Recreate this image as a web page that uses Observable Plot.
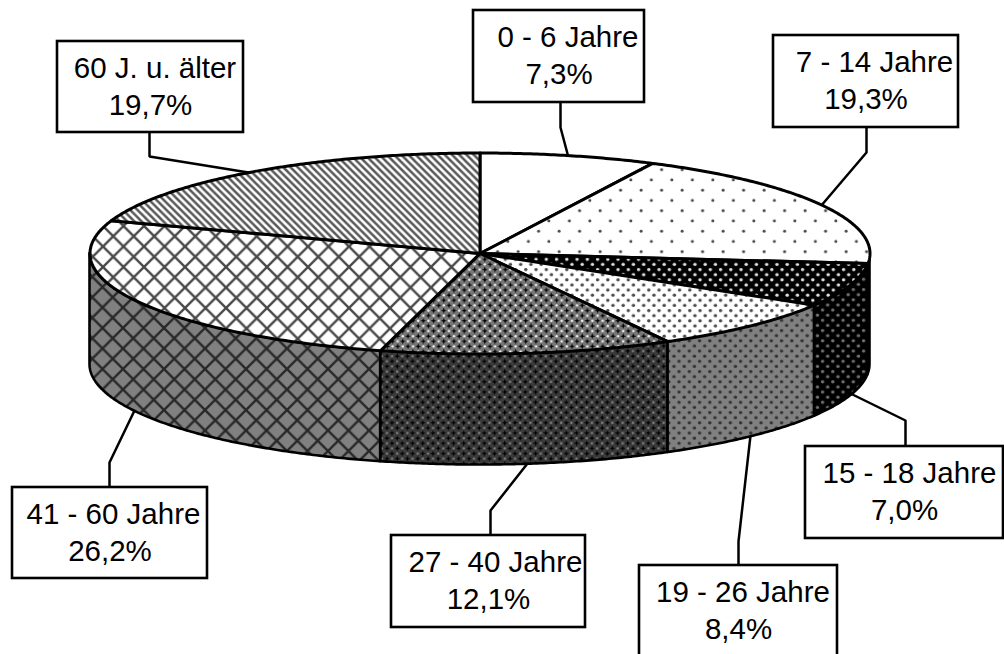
<!DOCTYPE html>
<html><head><meta charset="utf-8">
<script src="https://cdn.jsdelivr.net/npm/d3@7"></script>
<script src="https://cdn.jsdelivr.net/npm/@observablehq/plot@0.6"></script>
<style>html,body{margin:0;padding:0;background:#fff;overflow:hidden}svg{display:block}</style>
</head><body><div id="chart"></div>
<script>
const categories = ["0 - 6 Jahre","7 - 14 Jahre","15 - 18 Jahre","19 - 26 Jahre","27 - 40 Jahre","41 - 60 Jahre","60 J. u. älter"];
const shares = [7.3,19.3,7.0,8.4,12.1,26.2,19.7];
const shareLabels = ["7,3%","19,3%","7,0%","8,4%","12,1%","26,2%","19,7%"];

// layout (separate from the data)
const pie = {cx:479.5, cy:253, rx:390, ry:100.5, depth:111};
const topFills = ["#fff","url(#dotsW)","url(#denseK)","url(#denseW)","url(#starTop)","url(#latticeTop)","url(#stripes)"];
const sideFills = ["#808080","url(#dotsG)","url(#denseKs)","url(#denseG)","url(#starSide)","url(#latticeSide)","#808080"];
const boxes = [[473,644,10,102],[773,958,35,127],[805,1003,446,538],[639,837,565,660],[391,585,535,627],[12,207,487,578],[57,243,41,132]];
const firstLineX = [567.5,874,909,742.5,495,113,154.5];
const leaders = [
  [[560,102],[560,127],[568,157]],
  [[866,127],[866,152],[820,206]],
  [[905,446],[905,420],[852,394]],
  [[738,565],[738,541],[750,435]],
  [[490,535],[490,510],[527,463]],
  [[109,487],[109,462],[135,408]],
  [[149,132],[149,156],[248,172]]
];
const fontSize = 29.5, lineGap = 37;

const rad = d => d*Math.PI/180;
const px = a => pie.cx + pie.rx*Math.sin(rad(a));
const py = a => pie.cy - pie.ry*Math.cos(rad(a));
let run = 0;
const slices = shares.map((v,i)=>{const s=run*3.6; run+=v; return {i,s,e:run*3.6};});
const arc = (s,e) => { const n=Math.max(2,Math.ceil((e-s)/0.5)); return d3.range(n+1).map(k=>s+(e-s)*k/n); };

const marks = [];
leaders.forEach(l => marks.push(Plot.line(l,{x:d=>d[0],y:d=>d[1],stroke:"#000",strokeWidth:2.5,strokeLinejoin:"miter"})));

// side walls: only the part of each slice facing the viewer
slices.forEach(sl=>{
  const s=Math.max(sl.s,90), e=Math.min(sl.e,270);
  if(e<=s) return;
  marks.push(Plot.area(arc(s,e),{x1:px,y1:py,y2:a=>py(a)+pie.depth,fill:sideFills[sl.i],fillOpacity:1,stroke:"#000",strokeWidth:2.6,strokeLinejoin:"round"}));
});
// top faces
slices.forEach(sl=>{
  const pts=[{x:pie.cx,y:pie.cy},...arc(sl.s,sl.e).map(a=>({x:px(a),y:py(a)})),{x:pie.cx,y:pie.cy}];
  marks.push(Plot.line(pts,{x:"x",y:"y",fill:topFills[sl.i],stroke:"#000",strokeWidth:3,strokeLinejoin:"round"}));
});
// label boxes and text
const labelRows = categories.map((c,i)=>({c,p:shareLabels[i],x1:boxes[i][0],x2:boxes[i][1],y1:boxes[i][2],y2:boxes[i][3],fx:firstLineX[i]}));
marks.push(Plot.rect(labelRows,{x1:"x1",x2:"x2",y1:"y1",y2:"y2",fill:"#fff",stroke:"#000",strokeWidth:2.6}));
const fontOpts={fontFamily:"Liberation Sans, Arial, sans-serif",fontSize,fill:"#000",textAnchor:"middle",lineAnchor:"middle"};
marks.push(Plot.text(labelRows,{x:"fx",y:d=>d.y1+27,text:"c",...fontOpts}));
marks.push(Plot.text(labelRows,{x:d=>(d.x1+d.x2)/2,y:d=>d.y1+27+lineGap,text:"p",...fontOpts}));

const plot = Plot.plot({
  width:1004,height:654,margin:0,
  x:{type:"linear",domain:[0,1004],range:[0,1004],axis:null},
  y:{type:"linear",domain:[0,654],range:[0,654],axis:null},
  style:{background:"#fff",overflow:"hidden"},
  marks
});

// hatch patterns in the manner of the original print fills
const defs=d3.select(plot).insert("defs",":first-child");
function pat(id,size,bg,draw){
  const p=defs.append("pattern").attr("id",id).attr("patternUnits","userSpaceOnUse").attr("width",size).attr("height",size);
  p.append("rect").attr("width",size).attr("height",size).attr("fill",bg);
  draw(p,size);
}
const stag=(p,s,r,c)=>{[[s/4,s/4],[3*s/4,3*s/4]].forEach(([x,y])=>p.append("circle").attr("cx",x).attr("cy",y).attr("r",r).attr("fill",c));};
pat("dotsW",20.5,"#fff",(p,s)=>stag(p,s,1.5,"#444"));
pat("dotsG",20.5,"#808080",(p,s)=>stag(p,s,1.6,"#333"));
pat("denseK",10.25,"#000",(p,s)=>stag(p,s,1.7,"#e0e0e0"));
pat("denseKs",10.25,"#000",(p,s)=>stag(p,s,1.7,"#707070"));
pat("denseW",10.25,"#fff",(p,s)=>stag(p,s,1.7,"#4a4a4a"));
pat("denseG",10.25,"#808080",(p,s)=>stag(p,s,1.7,"#333"));
function star(p,s,c,dot){
  [[s/4,s/4],[3*s/4,3*s/4]].forEach(([x,y])=>{
    p.append("path").attr("d",`M${x-3},${y}L${x-0.8},${y-0.8}L${x},${y-3}L${x+0.8},${y-0.8}L${x+3},${y}L${x+0.8},${y+0.8}L${x},${y+3}L${x-0.8},${y+0.8}Z`).attr("fill",c);
  });
  [[3*s/4,s/4],[s/4,3*s/4]].forEach(([x,y])=>p.append("circle").attr("cx",x).attr("cy",y).attr("r",1.2).attr("fill",dot));
}
pat("starTop",10.25,"#777",(p,s)=>star(p,s,"#000","#f4f4f4"));
pat("starSide",10.25,"#3a3a3a",(p,s)=>star(p,s,"#000","#808080"));
function lattice(p,s,c){
  p.append("path").attr("d",`M0,0L${s},${s}M${s},0L0,${s}`).attr("stroke",c).attr("stroke-width",2.4).attr("fill","none");
}
pat("latticeTop",20.5,"#fff",(p,s)=>lattice(p,s,"#484848"));
pat("latticeSide",20.5,"#808080",(p,s)=>lattice(p,s,"#282828"));
pat("stripes",7.25,"#fff",(p,s)=>{
  p.append("path").attr("d",`M${-s},${-s}L${2*s},${2*s}M0,${-s}L${2*s},${s}M${-s},0L${s},${2*s}`).attr("stroke","#585858").attr("stroke-width",2.5).attr("fill","none");
});
document.getElementById("chart").appendChild(plot);
</script></body></html>
